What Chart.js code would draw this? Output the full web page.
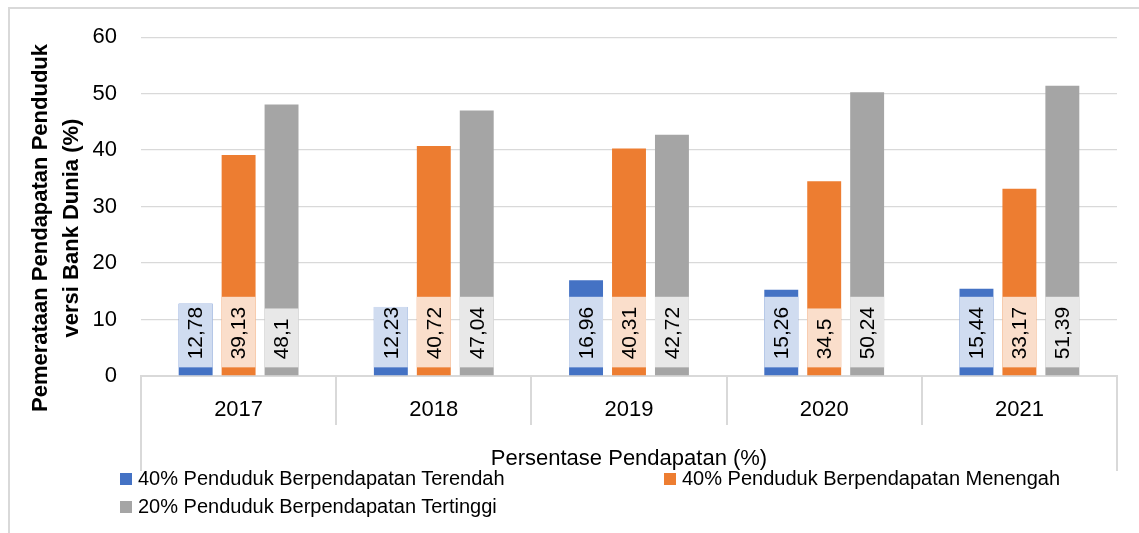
<!DOCTYPE html>
<html>
<head>
<meta charset="utf-8">
<script src="https://cdn.jsdelivr.net/npm/chart.js@4"></script>
<style>
  body { margin: 0; background: #fff; }
  #wrap { position: relative; width: 1139px; height: 533px; overflow: hidden; }
  #frame { position: absolute; left: 8px; top: 7px; right: -4px; bottom: -4px; border-left: 2px solid #d9d9d9; border-top: 2px solid #d9d9d9; }
  canvas { position: absolute; left: 0; top: 0; }
  .lg { position: absolute; color: #000; line-height: 24px; white-space: nowrap; }
  .lg i { display: inline-block; width: 12px; height: 12px; margin-right: 6px; }
</style>
</head>
<body>
<div id="wrap">
  <div id="frame"></div>
  <canvas id="myChart" width="1139" height="533"></canvas>
  <div id="legend"></div>
</div>
<script>
const years = ["2017", "2018", "2019", "2020", "2021"];
const seriesNames = [
  "40% Penduduk Berpendapatan Terendah",
  "40% Penduduk Berpendapatan Menengah",
  "20% Penduduk Berpendapatan Tertinggi",
];
const lowest40 = [12.78, 12.23, 16.96, 15.26, 15.44];
const middle40 = [39.13, 40.72, 40.31, 34.5, 33.17];
const top20 = [48.1, 47.04, 42.72, 50.24, 51.39];
const yTicks = [0, 10, 20, 30, 40, 50, 60];

const colors = ["#4472C4", "#ED7D31", "#A5A5A5"];
const lightColors = ["#D0DCF0", "#FADECB", "#E8E8E8"];

// use the narrow face when it is there, it is closer to the excel look
const probe = document.createElement("canvas").getContext("2d");
probe.font = '40px "Liberation Sans Narrow", monospace';
const wNarrow = probe.measureText("Pendapatan 2017").width;
probe.font = "40px monospace";
const hasNarrow = Math.abs(wNarrow - probe.measureText("Pendapatan 2017").width) > 1;
const fontFam = hasNarrow ? '"Liberation Sans Narrow", "Liberation Sans", Arial, sans-serif' : '"Liberation Sans", Arial, sans-serif';
const fs = hasNarrow
  ? { tick: 26, label: 25, title: 26, axisTitle: 26, legend: 24 }
  : { tick: 22, label: 21, title: 22, axisTitle: 22, legend: 20 };

const legendPos = [[120, 466], [664, 466], [120, 494]];
const legendDiv = document.getElementById("legend");
seriesNames.forEach((name, i) => {
  const d = document.createElement("div");
  d.className = "lg";
  d.style.left = legendPos[i][0] + "px";
  d.style.top = legendPos[i][1] + "px";
  d.style.fontFamily = fontFam;
  d.style.fontSize = fs.legend + "px";
  d.innerHTML = '<i style="background:' + colors[i] + '"></i>' + name;
  legendDiv.appendChild(d);
});

const labelBoxes = {
  id: "labelBoxes",
  afterDatasetsDraw(chart) {
    const ctx = chart.ctx;
    ctx.save();
    ctx.font = fs.label + "px " + fontFam;
    chart.data.datasets.forEach((ds, di) => {
      const meta = chart.getDatasetMeta(di);
      meta.data.forEach((bar, i) => {
        const txt = String(ds.data[i]).replace(".", ",");
        const w = ctx.measureText(txt).width;
        const base = bar.base;
        const textStart = base - 16;
        let top = textStart - w - 10;
        top = Math.max(top, bar.y);
        ctx.fillStyle = lightColors[di];
        ctx.fillRect(bar.x - bar.width / 2, top, bar.width, base - 8 - top);
        ctx.save();
        ctx.translate(bar.x, textStart);
        ctx.rotate(-Math.PI / 2);
        ctx.fillStyle = "#000";
        ctx.textAlign = "left";
        ctx.textBaseline = "middle";
        ctx.fillText(txt, 0, 1);
        ctx.restore();
      });
    });
    ctx.restore();
  },
  afterDraw(chart) {
    const ctx = chart.ctx;
    const area = chart.chartArea;
    ctx.save();
    // outer category separators run a bit lower
    ctx.strokeStyle = "#d9d9d9";
    ctx.lineWidth = 2;
    ctx.beginPath();
    ctx.moveTo(area.left, area.bottom + 48);
    ctx.lineTo(area.left, area.bottom + 95);
    ctx.moveTo(area.right, area.bottom + 48);
    ctx.lineTo(area.right, area.bottom + 95);
    ctx.stroke();
    // y axis title
    ctx.fillStyle = "#000";
    ctx.font = "bold " + fs.title + "px " + fontFam;
    ctx.textAlign = "center";
    ctx.textBaseline = "middle";
    const lines = ["Pemerataan Pendapatan Penduduk", "versi Bank Dunia (%)"];
    lines.forEach((t, k) => {
      ctx.save();
      ctx.translate(41 + k * 31, 228);
      ctx.rotate(-Math.PI / 2);
      ctx.fillText(t, 0, 0);
      ctx.restore();
    });
    ctx.restore();
  },
};

const ctx = document.getElementById("myChart").getContext("2d");
const myChart = new Chart(ctx, {
  type: "bar",
  data: {
    labels: years,
    datasets: [
      { label: seriesNames[0], data: lowest40, backgroundColor: colors[0] },
      { label: seriesNames[1], data: middle40, backgroundColor: colors[1] },
      { label: seriesNames[2], data: top20, backgroundColor: colors[2] },
    ],
  },
  options: {
    responsive: false,
    animation: false,
    devicePixelRatio: 1,
    categoryPercentage: 0.66,
    barPercentage: 0.79,
    layout: { padding: { left: 0, top: 35, right: 22, bottom: 61 } },
    plugins: {
      legend: { display: false },
      tooltip: { enabled: false },
    },
    scales: {
      x: {
        afterFit: (scale) => { scale.height = 96; },
        grid: { offset: true, drawOnChartArea: false, color: "#d9d9d9", lineWidth: 2, tickLength: 49 },
        border: { display: true, color: "#d9d9d9", width: 2 },
        ticks: { color: "#000", font: { family: fontFam, size: fs.tick }, padding: hasNarrow ? -30 : -28 },
        title: {
          display: true,
          text: "Persentase Pendapatan (%)",
          color: "#000",
          font: { family: fontFam, size: fs.axisTitle, lineHeight: 1.1 },
          padding: { top: 0, bottom: 1 },
        },
      },
      y: {
        min: 0,
        max: 60,
        afterFit: (scale) => { scale.width = 141; },
        afterBuildTicks: (scale) => { scale.ticks = yTicks.map((v) => ({ value: v })); },
        grid: { color: "#d9d9d9", lineWidth: 1.3, drawTicks: false },
        border: { display: false },
        ticks: { color: "#000", font: { family: fontFam, size: fs.tick }, padding: 24 },
      },
    },
  },
  plugins: [labelBoxes],
});
</script>
</body>
</html>
